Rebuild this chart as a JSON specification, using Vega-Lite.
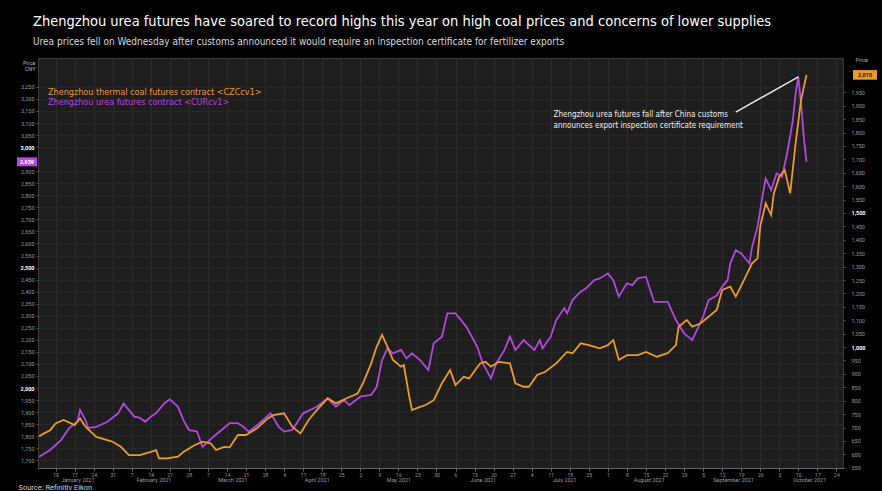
{
  "$schema": "https://vega.github.io/schema/vega-lite/v6.json",
  "width": 805,
  "height": 410,
  "autosize": {"type": "none"},
  "padding": {"left": 38, "top": 58, "right": 39, "bottom": 23},
  "background": "#000000",
  "config": {
    "view": {"fill": "#1e1e1e", "stroke": "#3a3a3a"},
    "font": "Roboto",
    "axis": {"labelFont": "Roboto", "titleFont": "Roboto", "labelOverlap": false, "titleColor": "#d0d0d0"}
  },
  "title": {
    "text": "Zhengzhou urea futures have soared to record highs this year on high coal prices and concerns of lower supplies",
    "subtitle": "Urea prices fell on Wednesday after customs announced it would require an inspection certificate for fertilizer exports",
    "anchor": "start",
    "frame": "group",
    "dx": -5,
    "color": "#ffffff",
    "font": "Liberation Sans Narrow, DejaVu Sans Condensed, Roboto Condensed, Roboto",
    "fontSize": 14.5,
    "fontWeight": "normal",
    "subtitleColor": "#d8d8d8",
    "subtitleFont": "Liberation Sans Narrow, DejaVu Sans Condensed, Roboto Condensed, Roboto",
    "subtitleFontSize": 10,
    "subtitlePadding": 8,
    "offset": 9
  },
  "datasets": {
    "prices": [
      {"date": "2021-01-04", "contract": "urea", "price": 1715},
      {"date": "2021-01-08", "contract": "urea", "price": 1743},
      {"date": "2021-01-12", "contract": "urea", "price": 1784},
      {"date": "2021-01-15", "contract": "urea", "price": 1834},
      {"date": "2021-01-18", "contract": "urea", "price": 1860},
      {"date": "2021-01-19", "contract": "urea", "price": 1909},
      {"date": "2021-01-21", "contract": "urea", "price": 1867},
      {"date": "2021-01-22", "contract": "urea", "price": 1834},
      {"date": "2021-01-25", "contract": "urea", "price": 1839},
      {"date": "2021-01-29", "contract": "urea", "price": 1860},
      {"date": "2021-02-02", "contract": "urea", "price": 1895},
      {"date": "2021-02-04", "contract": "urea", "price": 1936},
      {"date": "2021-02-05", "contract": "urea", "price": 1922},
      {"date": "2021-02-08", "contract": "urea", "price": 1881},
      {"date": "2021-02-10", "contract": "urea", "price": 1876},
      {"date": "2021-02-12", "contract": "urea", "price": 1860},
      {"date": "2021-02-14", "contract": "urea", "price": 1881},
      {"date": "2021-02-16", "contract": "urea", "price": 1896},
      {"date": "2021-02-19", "contract": "urea", "price": 1937},
      {"date": "2021-02-21", "contract": "urea", "price": 1953},
      {"date": "2021-02-24", "contract": "urea", "price": 1922},
      {"date": "2021-02-26", "contract": "urea", "price": 1867},
      {"date": "2021-02-28", "contract": "urea", "price": 1826},
      {"date": "2021-03-03", "contract": "urea", "price": 1819},
      {"date": "2021-03-05", "contract": "urea", "price": 1756},
      {"date": "2021-03-07", "contract": "urea", "price": 1777},
      {"date": "2021-03-09", "contract": "urea", "price": 1798},
      {"date": "2021-03-12", "contract": "urea", "price": 1826},
      {"date": "2021-03-15", "contract": "urea", "price": 1854},
      {"date": "2021-03-18", "contract": "urea", "price": 1854},
      {"date": "2021-03-20", "contract": "urea", "price": 1839},
      {"date": "2021-03-22", "contract": "urea", "price": 1819},
      {"date": "2021-03-26", "contract": "urea", "price": 1854},
      {"date": "2021-03-30", "contract": "urea", "price": 1895},
      {"date": "2021-04-02", "contract": "urea", "price": 1839},
      {"date": "2021-04-04", "contract": "urea", "price": 1819},
      {"date": "2021-04-07", "contract": "urea", "price": 1826},
      {"date": "2021-04-11", "contract": "urea", "price": 1895},
      {"date": "2021-04-16", "contract": "urea", "price": 1922},
      {"date": "2021-04-20", "contract": "urea", "price": 1957},
      {"date": "2021-04-23", "contract": "urea", "price": 1922},
      {"date": "2021-04-26", "contract": "urea", "price": 1950},
      {"date": "2021-04-28", "contract": "urea", "price": 1929},
      {"date": "2021-05-02", "contract": "urea", "price": 1964},
      {"date": "2021-05-06", "contract": "urea", "price": 1971},
      {"date": "2021-05-08", "contract": "urea", "price": 2005},
      {"date": "2021-05-10", "contract": "urea", "price": 2116},
      {"date": "2021-05-12", "contract": "urea", "price": 2165},
      {"date": "2021-05-14", "contract": "urea", "price": 2144},
      {"date": "2021-05-17", "contract": "urea", "price": 2158},
      {"date": "2021-05-19", "contract": "urea", "price": 2123},
      {"date": "2021-05-21", "contract": "urea", "price": 2144},
      {"date": "2021-05-24", "contract": "urea", "price": 2116},
      {"date": "2021-05-27", "contract": "urea", "price": 2075},
      {"date": "2021-05-29", "contract": "urea", "price": 2186},
      {"date": "2021-06-01", "contract": "urea", "price": 2213},
      {"date": "2021-06-03", "contract": "urea", "price": 2310},
      {"date": "2021-06-06", "contract": "urea", "price": 2310},
      {"date": "2021-06-10", "contract": "urea", "price": 2254},
      {"date": "2021-06-14", "contract": "urea", "price": 2171},
      {"date": "2021-06-16", "contract": "urea", "price": 2103},
      {"date": "2021-06-19", "contract": "urea", "price": 2040},
      {"date": "2021-06-21", "contract": "urea", "price": 2103},
      {"date": "2021-06-24", "contract": "urea", "price": 2158},
      {"date": "2021-06-26", "contract": "urea", "price": 2213},
      {"date": "2021-06-28", "contract": "urea", "price": 2158},
      {"date": "2021-07-01", "contract": "urea", "price": 2199},
      {"date": "2021-07-05", "contract": "urea", "price": 2158},
      {"date": "2021-07-07", "contract": "urea", "price": 2199},
      {"date": "2021-07-08", "contract": "urea", "price": 2165},
      {"date": "2021-07-11", "contract": "urea", "price": 2213},
      {"date": "2021-07-13", "contract": "urea", "price": 2282},
      {"date": "2021-07-16", "contract": "urea", "price": 2331},
      {"date": "2021-07-17", "contract": "urea", "price": 2310},
      {"date": "2021-07-19", "contract": "urea", "price": 2365},
      {"date": "2021-07-22", "contract": "urea", "price": 2400},
      {"date": "2021-07-24", "contract": "urea", "price": 2414},
      {"date": "2021-07-27", "contract": "urea", "price": 2448},
      {"date": "2021-07-29", "contract": "urea", "price": 2455},
      {"date": "2021-08-01", "contract": "urea", "price": 2476},
      {"date": "2021-08-03", "contract": "urea", "price": 2448},
      {"date": "2021-08-05", "contract": "urea", "price": 2379},
      {"date": "2021-08-08", "contract": "urea", "price": 2435},
      {"date": "2021-08-10", "contract": "urea", "price": 2427},
      {"date": "2021-08-12", "contract": "urea", "price": 2455},
      {"date": "2021-08-15", "contract": "urea", "price": 2462},
      {"date": "2021-08-18", "contract": "urea", "price": 2358},
      {"date": "2021-08-21", "contract": "urea", "price": 2358},
      {"date": "2021-08-23", "contract": "urea", "price": 2358},
      {"date": "2021-08-26", "contract": "urea", "price": 2282},
      {"date": "2021-08-29", "contract": "urea", "price": 2227},
      {"date": "2021-09-01", "contract": "urea", "price": 2199},
      {"date": "2021-09-03", "contract": "urea", "price": 2248},
      {"date": "2021-09-05", "contract": "urea", "price": 2296},
      {"date": "2021-09-07", "contract": "urea", "price": 2365},
      {"date": "2021-09-10", "contract": "urea", "price": 2384},
      {"date": "2021-09-12", "contract": "urea", "price": 2420},
      {"date": "2021-09-14", "contract": "urea", "price": 2448},
      {"date": "2021-09-15", "contract": "urea", "price": 2517},
      {"date": "2021-09-17", "contract": "urea", "price": 2573},
      {"date": "2021-09-19", "contract": "urea", "price": 2559},
      {"date": "2021-09-22", "contract": "urea", "price": 2517},
      {"date": "2021-09-23", "contract": "urea", "price": 2586},
      {"date": "2021-09-25", "contract": "urea", "price": 2669},
      {"date": "2021-09-27", "contract": "urea", "price": 2808},
      {"date": "2021-09-28", "contract": "urea", "price": 2870},
      {"date": "2021-09-30", "contract": "urea", "price": 2822},
      {"date": "2021-10-02", "contract": "urea", "price": 2891},
      {"date": "2021-10-04", "contract": "urea", "price": 2877},
      {"date": "2021-10-06", "contract": "urea", "price": 2981},
      {"date": "2021-10-08", "contract": "urea", "price": 3112},
      {"date": "2021-10-09", "contract": "urea", "price": 3223},
      {"date": "2021-10-10", "contract": "urea", "price": 3292},
      {"date": "2021-10-11", "contract": "urea", "price": 3181},
      {"date": "2021-10-12", "contract": "urea", "price": 3043},
      {"date": "2021-10-13", "contract": "urea", "price": 2939},
      {"date": "2021-01-04", "contract": "coal", "price": 668},
      {"date": "2021-01-06", "contract": "coal", "price": 679},
      {"date": "2021-01-08", "contract": "coal", "price": 690},
      {"date": "2021-01-10", "contract": "coal", "price": 715},
      {"date": "2021-01-13", "contract": "coal", "price": 728},
      {"date": "2021-01-17", "contract": "coal", "price": 709},
      {"date": "2021-01-19", "contract": "coal", "price": 734},
      {"date": "2021-01-21", "contract": "coal", "price": 703},
      {"date": "2021-01-23", "contract": "coal", "price": 684},
      {"date": "2021-01-25", "contract": "coal", "price": 665},
      {"date": "2021-01-29", "contract": "coal", "price": 653},
      {"date": "2021-01-31", "contract": "coal", "price": 647},
      {"date": "2021-02-03", "contract": "coal", "price": 628},
      {"date": "2021-02-06", "contract": "coal", "price": 597},
      {"date": "2021-02-10", "contract": "coal", "price": 597},
      {"date": "2021-02-14", "contract": "coal", "price": 609},
      {"date": "2021-02-16", "contract": "coal", "price": 616},
      {"date": "2021-02-17", "contract": "coal", "price": 585},
      {"date": "2021-02-20", "contract": "coal", "price": 585},
      {"date": "2021-02-24", "contract": "coal", "price": 591},
      {"date": "2021-02-26", "contract": "coal", "price": 609},
      {"date": "2021-03-02", "contract": "coal", "price": 634},
      {"date": "2021-03-05", "contract": "coal", "price": 647},
      {"date": "2021-03-08", "contract": "coal", "price": 641},
      {"date": "2021-03-10", "contract": "coal", "price": 616},
      {"date": "2021-03-13", "contract": "coal", "price": 628},
      {"date": "2021-03-15", "contract": "coal", "price": 626},
      {"date": "2021-03-18", "contract": "coal", "price": 672},
      {"date": "2021-03-21", "contract": "coal", "price": 672},
      {"date": "2021-03-25", "contract": "coal", "price": 697},
      {"date": "2021-03-29", "contract": "coal", "price": 734},
      {"date": "2021-03-31", "contract": "coal", "price": 746},
      {"date": "2021-04-04", "contract": "coal", "price": 753},
      {"date": "2021-04-07", "contract": "coal", "price": 703},
      {"date": "2021-04-10", "contract": "coal", "price": 678},
      {"date": "2021-04-13", "contract": "coal", "price": 728},
      {"date": "2021-04-16", "contract": "coal", "price": 765},
      {"date": "2021-04-20", "contract": "coal", "price": 809},
      {"date": "2021-04-23", "contract": "coal", "price": 790},
      {"date": "2021-04-27", "contract": "coal", "price": 809},
      {"date": "2021-05-01", "contract": "coal", "price": 827},
      {"date": "2021-05-03", "contract": "coal", "price": 865},
      {"date": "2021-05-06", "contract": "coal", "price": 939},
      {"date": "2021-05-08", "contract": "coal", "price": 1001},
      {"date": "2021-05-10", "contract": "coal", "price": 1045},
      {"date": "2021-05-12", "contract": "coal", "price": 1001},
      {"date": "2021-05-14", "contract": "coal", "price": 952},
      {"date": "2021-05-17", "contract": "coal", "price": 927},
      {"date": "2021-05-18", "contract": "coal", "price": 933},
      {"date": "2021-05-20", "contract": "coal", "price": 815},
      {"date": "2021-05-21", "contract": "coal", "price": 765},
      {"date": "2021-05-24", "contract": "coal", "price": 777},
      {"date": "2021-05-26", "contract": "coal", "price": 784},
      {"date": "2021-05-29", "contract": "coal", "price": 802},
      {"date": "2021-06-01", "contract": "coal", "price": 865},
      {"date": "2021-06-04", "contract": "coal", "price": 914},
      {"date": "2021-06-06", "contract": "coal", "price": 858},
      {"date": "2021-06-09", "contract": "coal", "price": 889},
      {"date": "2021-06-11", "contract": "coal", "price": 883},
      {"date": "2021-06-15", "contract": "coal", "price": 939},
      {"date": "2021-06-17", "contract": "coal", "price": 945},
      {"date": "2021-06-19", "contract": "coal", "price": 927},
      {"date": "2021-06-22", "contract": "coal", "price": 945},
      {"date": "2021-06-26", "contract": "coal", "price": 939},
      {"date": "2021-06-28", "contract": "coal", "price": 865},
      {"date": "2021-07-01", "contract": "coal", "price": 852},
      {"date": "2021-07-03", "contract": "coal", "price": 852},
      {"date": "2021-07-06", "contract": "coal", "price": 896},
      {"date": "2021-07-09", "contract": "coal", "price": 908},
      {"date": "2021-07-13", "contract": "coal", "price": 939},
      {"date": "2021-07-17", "contract": "coal", "price": 982},
      {"date": "2021-07-19", "contract": "coal", "price": 977},
      {"date": "2021-07-22", "contract": "coal", "price": 1014},
      {"date": "2021-07-25", "contract": "coal", "price": 1007},
      {"date": "2021-07-29", "contract": "coal", "price": 995},
      {"date": "2021-08-01", "contract": "coal", "price": 1007},
      {"date": "2021-08-03", "contract": "coal", "price": 1026},
      {"date": "2021-08-05", "contract": "coal", "price": 952},
      {"date": "2021-08-08", "contract": "coal", "price": 970},
      {"date": "2021-08-12", "contract": "coal", "price": 970},
      {"date": "2021-08-15", "contract": "coal", "price": 982},
      {"date": "2021-08-19", "contract": "coal", "price": 964},
      {"date": "2021-08-23", "contract": "coal", "price": 977},
      {"date": "2021-08-26", "contract": "coal", "price": 1007},
      {"date": "2021-08-27", "contract": "coal", "price": 1076},
      {"date": "2021-08-30", "contract": "coal", "price": 1101},
      {"date": "2021-09-01", "contract": "coal", "price": 1076},
      {"date": "2021-09-04", "contract": "coal", "price": 1088},
      {"date": "2021-09-07", "contract": "coal", "price": 1113},
      {"date": "2021-09-10", "contract": "coal", "price": 1138},
      {"date": "2021-09-12", "contract": "coal", "price": 1213},
      {"date": "2021-09-15", "contract": "coal", "price": 1225},
      {"date": "2021-09-17", "contract": "coal", "price": 1188},
      {"date": "2021-09-20", "contract": "coal", "price": 1250},
      {"date": "2021-09-23", "contract": "coal", "price": 1312},
      {"date": "2021-09-25", "contract": "coal", "price": 1331},
      {"date": "2021-09-26", "contract": "coal", "price": 1449},
      {"date": "2021-09-28", "contract": "coal", "price": 1536},
      {"date": "2021-09-30", "contract": "coal", "price": 1492},
      {"date": "2021-10-01", "contract": "coal", "price": 1573},
      {"date": "2021-10-03", "contract": "coal", "price": 1635},
      {"date": "2021-10-05", "contract": "coal", "price": 1660},
      {"date": "2021-10-07", "contract": "coal", "price": 1573},
      {"date": "2021-10-09", "contract": "coal", "price": 1760},
      {"date": "2021-10-11", "contract": "coal", "price": 1921},
      {"date": "2021-10-13", "contract": "coal", "price": 2015}
    ],
    "notes": [
      {"date": "2021-07-12", "price": 3150, "label": "Zhengzhou urea futures fall after China customs\nannounces export inspection certificate requirement"}
    ],
    "pointer": [
      {"date": "2021-09-17", "price": 3145, "date_end": "2021-10-10", "price_end": 3292}
    ]
  },
  "layer": [
    {
      "layer": [
        {
          "data": {"name": "prices"},
          "transform": [{"filter": "datum.contract === 'urea'"}],
          "mark": {"type": "line", "strokeWidth": 1.8, "interpolate": "linear"},
          "encoding": {
            "x": {
              "field": "date", "type": "temporal",
              "scale": {"type": "utc", "domain": [{"year": 2021, "month": 1, "date": 3, "hours": 13, "utc": true}, {"year": 2021, "month": 10, "date": 26, "hours": 10, "utc": true}]},
              "axis": {"orient": "bottom", "tickCount": {"interval": "week", "step": 1}, "format": "%-d", "labelFontSize": 5, "labelColor": "#9a9a9a", "labelPadding": 1, "grid": true, "gridColor": "#2d2d2d", "tickSize": 3, "tickColor": "#666666", "domainColor": "#666666", "title": null, "labelOverlap": false}
            },
            "y": {
              "field": "price", "type": "quantitative",
              "scale": {"domain": [1668, 3370], "nice": false, "zero": false},
              "axis": {"orient": "left", "tickCount": 200, "values": [1700,1750,1800,1850,1900,1950,2000,2050,2100,2150,2200,2250,2300,2350,2400,2450,2500,2550,2600,2650,2700,2750,2800,2850,2900,3000,3050,3100,3150,3200,3250], "format": ",.0f", "labelFontSize": 5.5, "labelColor": {"condition": {"test": "datum.value % 500 === 0", "value": "#ffffff"}, "value": "#9a9a9a"}, "labelFontWeight": {"condition": {"test": "datum.value % 500 === 0", "value": "bold"}, "value": "normal"}, "labelPadding": 2, "tickSize": 2, "tickColor": "#555555", "domain": false, "grid": true, "gridColor": "#272727", "labelOverlap": false, "labelSeparation": 0, "title": ["Price", "CNY"], "titleAngle": 0, "titleAlign": "right", "titleBaseline": "top", "titleX": -3, "titleY": 2, "titleFontSize": 5.5, "titleColor": "#b0b0b0", "titleFontWeight": "normal", "titleLineHeight": 6}
            },
            "color": {
              "field": "contract", "type": "nominal",
              "scale": {"domain": ["coal", "urea"], "range": ["#eb9a2c", "#b347e0"]},
              "legend": {
                "orient": "none", "legendX": 1, "legendY": 29, "title": null,
                "symbolSize": 0, "symbolOpacity": 0, "symbolStrokeWidth": 0,
                "labelOffset": 0, "rowPadding": 0, "labelFontSize": 9, "labelLimit": 400,
                "labelFont": "Liberation Sans Narrow, DejaVu Sans Condensed, Roboto",
                "labelExpr": "datum.value === 'coal' ? 'Zhengzhou thermal coal futures contract <CZCcv1>' : 'Zhengzhou urea futures contract <CURcv1>'",
                "encode": {"labels": {"update": {"fill": {"signal": "datum.value === 'coal' ? '#eb9a2c' : '#b347e0'"}}}}
              }
            }
          }
        },
        {
          "data": {"name": "pointer"},
          "mark": {"type": "rule", "color": "#e8e8e8", "strokeWidth": 1.5},
          "encoding": {
            "x": {"field": "date", "type": "temporal"},
            "x2": {"field": "date_end"},
            "y": {"field": "price", "type": "quantitative"},
            "y2": {"field": "price_end"}
          }
        },
        {
          "data": {"name": "notes"},
          "mark": {"type": "text", "align": "left", "baseline": "top", "lineBreak": "\n", "color": "#f0f0f0", "fontSize": 8, "lineHeight": 11, "font": "Liberation Sans Narrow, DejaVu Sans Condensed, Roboto"},
          "encoding": {
            "x": {"field": "date", "type": "temporal"},
            "y": {"field": "price", "type": "quantitative"},
            "text": {"field": "label"}
          }
        },
        {
          "data": {"name": "prices"},
          "transform": [
            {"filter": "datum.contract === 'urea'"},
            {"joinaggregate": [{"op": "max", "field": "date", "as": "last"}]},
            {"filter": "+datum.date === +datum.last"}
          ],
          "encoding": {
            "x": {"datum": {"year": 2021, "month": 1, "date": 3, "hours": 13, "utc": true}, "type": "temporal"},
            "y": {"field": "price", "type": "quantitative"}
          },
          "layer": [
            {"mark": {"type": "point", "shape": "M-1,-0.45L1,-0.45L1,0.45L-1,0.45Z", "filled": true, "size": 400, "opacity": 1, "color": "#b347e0", "strokeWidth": 0, "xOffset": -11}},
            {"mark": {"type": "text", "dx": -11, "align": "center", "baseline": "middle", "fontSize": 5.5, "fontWeight": "bold", "color": "#ffffff"}, "encoding": {"text": {"field": "price", "type": "quantitative", "format": ",.0f"}}}
          ]
        }
      ]
    },
    {
      "layer": [
        {
          "data": {"name": "prices"},
          "transform": [{"filter": "datum.contract === 'coal'"}],
          "mark": {"type": "line", "strokeWidth": 1.8},
          "encoding": {
            "x": {
              "field": "date", "type": "temporal",
              "scale": {"type": "utc", "domain": [{"year": 2021, "month": 1, "date": 3, "hours": 13, "utc": true}, {"year": 2021, "month": 10, "date": 26, "hours": 10, "utc": true}]},
              "axis": {"orient": "bottom", "offset": 9, "tickCount": 50, "values": [{"year": 2021, "month": 1, "date": 18, "utc": true}, {"year": 2021, "month": 2, "date": 15, "utc": true}, {"year": 2021, "month": 3, "date": 16, "utc": true}, {"year": 2021, "month": 4, "date": 16, "utc": true}, {"year": 2021, "month": 5, "date": 16, "utc": true}, {"year": 2021, "month": 6, "date": 16, "utc": true}, {"year": 2021, "month": 7, "date": 16, "utc": true}, {"year": 2021, "month": 8, "date": 16, "utc": true}, {"year": 2021, "month": 9, "date": 16, "utc": true}, {"year": 2021, "month": 10, "date": 14, "utc": true}], "format": "%B %Y", "tickSize": 0, "domain": false, "grid": false, "labelFontSize": 5.5, "labelColor": "#9a9a9a", "labelPadding": 0, "title": "Source: Refinitiv Eikon", "titleAnchor": "start", "titleAlign": "left", "titleBaseline": "top", "titleX": -20, "titleY": 6, "titleColor": "#d0d0d0", "titleFontSize": 7.5, "titleFontWeight": "normal"}
            },
            "y": {
              "field": "price", "type": "quantitative",
              "scale": {"domain": [549, 2078], "nice": false, "zero": false},
              "axis": {"orient": "right", "tickCount": 200, "values": [550,600,650,700,750,800,850,900,950,1000,1050,1100,1150,1200,1250,1300,1350,1400,1450,1500,1550,1600,1650,1700,1750,1800,1850,1900,1950], "format": ",.0f", "labelFontSize": 5.5, "labelColor": {"condition": {"test": "datum.value % 500 === 0", "value": "#ffffff"}, "value": "#9a9a9a"}, "labelFontWeight": {"condition": {"test": "datum.value % 500 === 0", "value": "bold"}, "value": "normal"}, "labelPadding": 6, "tickSize": 2, "tickColor": "#555555", "domain": false, "grid": false, "labelOverlap": false, "title": "Price", "titleAngle": 0, "titleAlign": "left", "titleBaseline": "top", "titleX": 12, "titleY": -1, "titleFontSize": 5.5, "titleColor": "#b0b0b0", "titleFontWeight": "normal"}
            },
            "color": {"field": "contract", "type": "nominal"}
          }
        },
        {
          "data": {"name": "prices"},
          "transform": [
            {"filter": "datum.contract === 'coal'"},
            {"joinaggregate": [{"op": "max", "field": "date", "as": "last"}]},
            {"filter": "+datum.date === +datum.last"}
          ],
          "encoding": {
            "x": {"datum": {"year": 2021, "month": 10, "date": 26, "hours": 10, "utc": true}, "type": "temporal"},
            "y": {"field": "price", "type": "quantitative"}
          },
          "layer": [
            {"mark": {"type": "point", "shape": "M-1,-0.4L1,-0.4L1,0.4L-1,0.4Z", "filled": true, "size": 576, "opacity": 1, "color": "#eb9a2c", "strokeWidth": 0, "xOffset": 22}},
            {"mark": {"type": "text", "dx": 22, "align": "center", "baseline": "middle", "fontSize": 5.5, "fontWeight": "bold", "color": "#1a1a1a"}, "encoding": {"text": {"field": "price", "type": "quantitative", "format": ",.0f"}}}
          ]
        }
      ]
    }
  ],
  "resolve": {"scale": {"y": "independent", "x": "independent"}}
}
